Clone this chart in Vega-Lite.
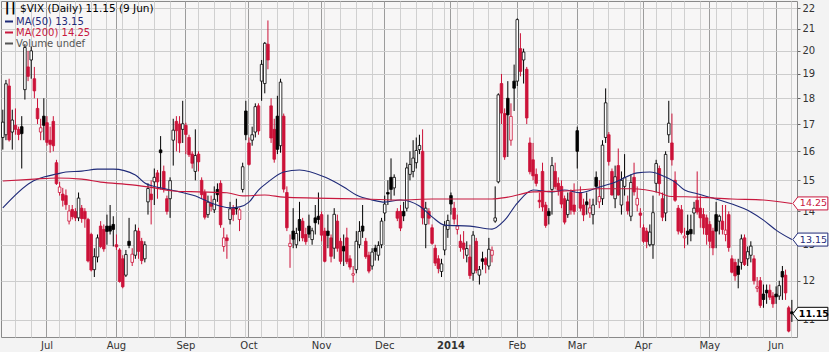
{
"$schema": "https://vega.github.io/schema/vega-lite/v6.json",
"width": 796, "height": 336,
"autosize": {"type": "none"},
"padding": {"left": 1, "top": 1, "right": 32, "bottom": 15},
"background": "#f3f3f3",
"config": {"view": {"stroke": "#8a8a8a", "fill": "#f7f6f6"}, "font": "DejaVu Sans",
  "axisY": {"orient": "right", "title": null, "values": [11,12,13,14,15,16,17,18,19,20,21,22], "format": "d",
        "grid": true, "gridColor": "#cdcdcd", "tickSize": 3, "tickColor": "#666666", "domain": false,
        "labelFontSize": 10, "labelColor": "#333333", "labelPadding": 2}},
"datasets": {
"px": [
{"t":"2013-06-11","o":16.5,"h":17.55,"l":16.06,"c":17.07,"d":"u"},
{"t":"2013-06-12","o":16.6,"h":18.75,"l":16.4,"c":18.59,"d":"u"},
{"t":"2013-06-13","o":18.5,"h":18.8,"l":16.35,"c":16.41,"d":"d"},
{"t":"2013-06-14","o":16.7,"h":17.55,"l":16.06,"c":17.15,"d":"u"},
{"t":"2013-06-17","o":16.95,"h":17.6,"l":16.6,"c":16.8,"d":"d"},
{"t":"2013-06-18","o":16.8,"h":16.9,"l":16.4,"c":16.61,"d":"d"},
{"t":"2013-06-19","o":16.9,"h":17.3,"l":15.4,"c":16.64,"d":"u"},
{"t":"2013-06-20","o":18.35,"h":20.3,"l":17.95,"c":20.15,"d":"u"},
{"t":"2013-06-21","o":19.3,"h":20.0,"l":18.7,"c":18.9,"d":"d"},
{"t":"2013-06-24","o":19.6,"h":20.2,"l":18.8,"c":20.0,"d":"u"},
{"t":"2013-06-25","o":18.8,"h":19.3,"l":18.0,"c":18.3,"d":"d"},
{"t":"2013-06-26","o":17.6,"h":18.0,"l":17.0,"c":17.2,"d":"d"},
{"t":"2013-06-27","o":16.7,"h":17.2,"l":16.4,"c":16.86,"d":"d"},
{"t":"2013-06-28","o":17.3,"h":18.0,"l":16.4,"c":16.95,"d":"u"},
{"t":"2013-07-01","o":17.05,"h":17.3,"l":16.2,"c":16.32,"d":"d"},
{"t":"2013-07-02","o":16.4,"h":16.9,"l":15.95,"c":16.25,"d":"d"},
{"t":"2013-07-03","o":17.1,"h":17.3,"l":16.0,"c":16.2,"d":"d"},
{"t":"2013-07-05","o":15.6,"h":15.7,"l":14.85,"c":14.89,"d":"d"},
{"t":"2013-07-08","o":14.6,"h":14.95,"l":14.5,"c":14.78,"d":"d"},
{"t":"2013-07-09","o":14.55,"h":14.75,"l":14.15,"c":14.35,"d":"d"},
{"t":"2013-07-10","o":14.5,"h":14.7,"l":14.05,"c":14.21,"d":"d"},
{"t":"2013-07-11","o":13.7,"h":14.2,"l":13.6,"c":14.01,"d":"d"},
{"t":"2013-07-12","o":14.06,"h":14.2,"l":13.75,"c":13.84,"d":"d"},
{"t":"2013-07-15","o":14.0,"h":14.1,"l":13.7,"c":13.8,"d":"d"},
{"t":"2013-07-16","o":13.8,"h":14.6,"l":13.7,"c":14.42,"d":"u"},
{"t":"2013-07-17","o":14.1,"h":14.2,"l":13.65,"c":13.78,"d":"d"},
{"t":"2013-07-18","o":14.0,"h":14.1,"l":13.5,"c":13.77,"d":"d"},
{"t":"2013-07-19","o":13.75,"h":13.8,"l":12.5,"c":12.54,"d":"d"},
{"t":"2013-07-22","o":13.3,"h":13.35,"l":12.25,"c":12.29,"d":"d"},
{"t":"2013-07-23","o":12.3,"h":12.9,"l":12.1,"c":12.66,"d":"u"},
{"t":"2013-07-24","o":12.65,"h":13.3,"l":12.5,"c":13.2,"d":"u"},
{"t":"2013-07-25","o":13.55,"h":13.7,"l":12.9,"c":12.95,"d":"d"},
{"t":"2013-07-26","o":13.45,"h":13.6,"l":12.8,"c":12.88,"d":"d"},
{"t":"2013-07-29","o":13.55,"h":13.9,"l":13.0,"c":13.39,"d":"u"},
{"t":"2013-07-30","o":13.55,"h":14.2,"l":13.3,"c":13.4,"d":"u"},
{"t":"2013-07-31","o":13.6,"h":13.85,"l":12.95,"c":13.45,"d":"u"},
{"t":"2013-08-01","o":13.0,"h":13.3,"l":12.85,"c":12.94,"d":"d"},
{"t":"2013-08-02","o":12.85,"h":12.9,"l":11.95,"c":11.98,"d":"d"},
{"t":"2013-08-05","o":12.6,"h":12.7,"l":11.8,"c":11.84,"d":"d"},
{"t":"2013-08-06","o":12.15,"h":12.85,"l":12.1,"c":12.72,"d":"u"},
{"t":"2013-08-07","o":13.1,"h":13.8,"l":12.9,"c":12.98,"d":"u"},
{"t":"2013-08-08","o":12.5,"h":12.9,"l":12.4,"c":12.73,"d":"d"},
{"t":"2013-08-09","o":12.7,"h":13.6,"l":12.6,"c":13.41,"d":"u"},
{"t":"2013-08-12","o":13.4,"h":13.5,"l":12.6,"c":12.81,"d":"d"},
{"t":"2013-08-13","o":13.1,"h":13.2,"l":12.45,"c":12.55,"d":"d"},
{"t":"2013-08-14","o":12.6,"h":13.1,"l":12.5,"c":13.0,"d":"u"},
{"t":"2013-08-15","o":14.3,"h":14.9,"l":13.9,"c":14.73,"d":"u"},
{"t":"2013-08-16","o":14.55,"h":15.0,"l":13.6,"c":14.37,"d":"d"},
{"t":"2013-08-19","o":14.95,"h":15.4,"l":14.2,"c":15.1,"d":"u"},
{"t":"2013-08-20","o":15.25,"h":15.35,"l":14.4,"c":14.95,"d":"d"},
{"t":"2013-08-21","o":16.05,"h":16.55,"l":14.7,"c":15.95,"d":"u"},
{"t":"2013-08-22","o":15.3,"h":15.5,"l":14.6,"c":14.7,"d":"d"},
{"t":"2013-08-23","o":14.4,"h":14.5,"l":13.9,"c":14.0,"d":"d"},
{"t":"2013-08-26","o":14.4,"h":15.1,"l":13.8,"c":14.99,"d":"u"},
{"t":"2013-08-27","o":16.4,"h":17.2,"l":15.5,"c":16.77,"d":"u"},
{"t":"2013-08-28","o":17.1,"h":17.3,"l":16.0,"c":16.75,"d":"d"},
{"t":"2013-08-29","o":17.0,"h":17.3,"l":15.95,"c":16.3,"d":"d"},
{"t":"2013-08-30","o":16.8,"h":17.9,"l":16.3,"c":17.01,"d":"u"},
{"t":"2013-09-03","o":16.95,"h":17.05,"l":15.9,"c":16.61,"d":"d"},
{"t":"2013-09-04","o":16.5,"h":16.6,"l":15.8,"c":15.88,"d":"d"},
{"t":"2013-09-05","o":15.9,"h":16.0,"l":15.4,"c":15.58,"d":"d"},
{"t":"2013-09-06","o":15.3,"h":16.8,"l":15.0,"c":15.85,"d":"u"},
{"t":"2013-09-09","o":15.9,"h":16.0,"l":15.3,"c":15.63,"d":"d"},
{"t":"2013-09-10","o":15.0,"h":15.1,"l":14.4,"c":14.53,"d":"d"},
{"t":"2013-09-11","o":14.6,"h":14.7,"l":13.75,"c":13.82,"d":"d"},
{"t":"2013-09-12","o":13.9,"h":14.5,"l":13.8,"c":14.29,"d":"u"},
{"t":"2013-09-13","o":14.25,"h":14.5,"l":14.0,"c":14.16,"d":"d"},
{"t":"2013-09-16","o":14.05,"h":14.8,"l":13.95,"c":14.38,"d":"u"},
{"t":"2013-09-17","o":14.7,"h":14.9,"l":14.3,"c":14.53,"d":"u"},
{"t":"2013-09-18","o":14.9,"h":15.0,"l":13.5,"c":13.59,"d":"d"},
{"t":"2013-09-19","o":12.95,"h":13.5,"l":12.8,"c":13.2,"d":"d"},
{"t":"2013-09-20","o":13.2,"h":13.3,"l":12.6,"c":13.12,"d":"d"},
{"t":"2013-09-23","o":13.75,"h":14.3,"l":13.6,"c":14.08,"d":"u"},
{"t":"2013-09-24","o":14.1,"h":14.2,"l":13.7,"c":13.9,"d":"d"},
{"t":"2013-09-25","o":14.1,"h":14.4,"l":13.9,"c":14.08,"d":"u"},
{"t":"2013-09-26","o":13.75,"h":14.1,"l":13.4,"c":14.05,"d":"d"},
{"t":"2013-09-27","o":14.7,"h":15.6,"l":14.6,"c":15.46,"d":"u"},
{"t":"2013-09-30","o":17.5,"h":17.9,"l":16.4,"c":16.6,"d":"u"},
{"t":"2013-10-01","o":16.3,"h":16.5,"l":15.5,"c":15.54,"d":"d"},
{"t":"2013-10-02","o":16.4,"h":16.9,"l":16.2,"c":16.6,"d":"u"},
{"t":"2013-10-03","o":16.7,"h":17.8,"l":16.5,"c":17.67,"d":"u"},
{"t":"2013-10-04","o":17.7,"h":17.8,"l":16.6,"c":16.74,"d":"d"},
{"t":"2013-10-07","o":18.7,"h":19.6,"l":17.9,"c":19.41,"d":"u"},
{"t":"2013-10-08","o":18.6,"h":20.4,"l":18.2,"c":20.34,"d":"u"},
{"t":"2013-10-09","o":20.3,"h":21.4,"l":19.2,"c":19.6,"d":"d"},
{"t":"2013-10-10","o":17.7,"h":18.0,"l":16.3,"c":16.48,"d":"d"},
{"t":"2013-10-11","o":16.8,"h":17.2,"l":15.6,"c":15.72,"d":"d"},
{"t":"2013-10-14","o":17.3,"h":18.1,"l":15.9,"c":16.07,"d":"u"},
{"t":"2013-10-15","o":16.2,"h":18.8,"l":15.95,"c":18.66,"d":"u"},
{"t":"2013-10-16","o":17.3,"h":17.4,"l":14.6,"c":14.71,"d":"d"},
{"t":"2013-10-17","o":14.6,"h":14.8,"l":13.4,"c":13.5,"d":"d"},
{"t":"2013-10-18","o":12.95,"h":13.3,"l":12.35,"c":13.04,"d":"d"},
{"t":"2013-10-21","o":13.4,"h":14.1,"l":12.9,"c":13.16,"d":"u"},
{"t":"2013-10-22","o":13.0,"h":13.5,"l":12.9,"c":13.33,"d":"u"},
{"t":"2013-10-23","o":13.75,"h":14.3,"l":13.1,"c":13.42,"d":"u"},
{"t":"2013-10-24","o":13.7,"h":13.8,"l":13.1,"c":13.2,"d":"d"},
{"t":"2013-10-25","o":13.3,"h":13.5,"l":13.0,"c":13.09,"d":"d"},
{"t":"2013-10-28","o":13.55,"h":13.9,"l":13.2,"c":13.31,"d":"u"},
{"t":"2013-10-29","o":13.15,"h":13.5,"l":13.0,"c":13.41,"d":"u"},
{"t":"2013-10-30","o":13.8,"h":14.2,"l":13.3,"c":13.65,"d":"u"},
{"t":"2013-10-31","o":13.85,"h":14.6,"l":13.6,"c":13.75,"d":"u"},
{"t":"2013-11-01","o":13.9,"h":14.0,"l":13.1,"c":13.28,"d":"d"},
{"t":"2013-11-04","o":13.4,"h":13.5,"l":12.5,"c":12.53,"d":"d"},
{"t":"2013-11-05","o":13.4,"h":13.9,"l":12.9,"c":13.27,"d":"u"},
{"t":"2013-11-06","o":13.2,"h":13.3,"l":12.5,"c":12.67,"d":"d"},
{"t":"2013-11-07","o":12.9,"h":14.1,"l":12.6,"c":13.91,"d":"u"},
{"t":"2013-11-08","o":13.7,"h":13.9,"l":12.8,"c":12.9,"d":"d"},
{"t":"2013-11-11","o":13.1,"h":13.2,"l":12.45,"c":12.53,"d":"d"},
{"t":"2013-11-12","o":12.95,"h":13.3,"l":12.4,"c":12.82,"d":"u"},
{"t":"2013-11-13","o":13.2,"h":13.5,"l":12.45,"c":12.52,"d":"d"},
{"t":"2013-11-14","o":12.6,"h":12.7,"l":12.3,"c":12.37,"d":"d"},
{"t":"2013-11-15","o":12.15,"h":12.4,"l":11.95,"c":12.19,"d":"d"},
{"t":"2013-11-18","o":12.3,"h":13.4,"l":12.2,"c":13.1,"d":"u"},
{"t":"2013-11-19","o":13.0,"h":13.7,"l":12.9,"c":13.39,"d":"u"},
{"t":"2013-11-20","o":13.55,"h":14.2,"l":13.2,"c":13.4,"d":"u"},
{"t":"2013-11-21","o":13.1,"h":13.2,"l":12.6,"c":12.66,"d":"d"},
{"t":"2013-11-22","o":12.7,"h":12.8,"l":12.2,"c":12.26,"d":"d"},
{"t":"2013-11-25","o":12.4,"h":12.9,"l":12.3,"c":12.79,"d":"u"},
{"t":"2013-11-26","o":12.9,"h":13.0,"l":12.55,"c":12.81,"d":"u"},
{"t":"2013-11-27","o":12.7,"h":13.1,"l":12.55,"c":12.98,"d":"u"},
{"t":"2013-11-29","o":13.0,"h":13.8,"l":12.9,"c":13.7,"d":"u"},
{"t":"2013-12-02","o":13.95,"h":14.5,"l":13.7,"c":14.23,"d":"u"},
{"t":"2013-12-03","o":14.6,"h":15.0,"l":14.2,"c":14.55,"d":"u"},
{"t":"2013-12-04","o":15.1,"h":15.75,"l":14.35,"c":14.7,"d":"u"},
{"t":"2013-12-05","o":14.75,"h":15.2,"l":14.5,"c":15.1,"d":"u"},
{"t":"2013-12-06","o":14.0,"h":14.1,"l":13.7,"c":13.79,"d":"d"},
{"t":"2013-12-09","o":14.0,"h":14.2,"l":13.4,"c":13.49,"d":"d"},
{"t":"2013-12-10","o":14.0,"h":14.3,"l":13.7,"c":13.86,"d":"u"},
{"t":"2013-12-11","o":14.1,"h":15.6,"l":14.0,"c":15.42,"d":"u"},
{"t":"2013-12-12","o":15.2,"h":16.0,"l":15.0,"c":15.54,"d":"u"},
{"t":"2013-12-13","o":15.3,"h":16.4,"l":15.1,"c":15.76,"d":"u"},
{"t":"2013-12-16","o":15.6,"h":16.5,"l":15.4,"c":16.03,"d":"u"},
{"t":"2013-12-17","o":16.06,"h":16.6,"l":15.9,"c":16.21,"d":"u"},
{"t":"2013-12-18","o":16.0,"h":16.8,"l":13.6,"c":13.8,"d":"d"},
{"t":"2013-12-19","o":13.6,"h":14.3,"l":12.9,"c":14.1,"d":"u"},
{"t":"2013-12-20","o":14.0,"h":14.1,"l":13.6,"c":13.79,"d":"d"},
{"t":"2013-12-23","o":13.5,"h":13.6,"l":13.0,"c":13.04,"d":"d"},
{"t":"2013-12-24","o":12.9,"h":13.0,"l":12.4,"c":12.48,"d":"d"},
{"t":"2013-12-26","o":12.6,"h":12.7,"l":12.2,"c":12.33,"d":"d"},
{"t":"2013-12-27","o":12.25,"h":12.6,"l":12.1,"c":12.46,"d":"u"},
{"t":"2013-12-30","o":12.85,"h":13.7,"l":12.7,"c":13.56,"d":"u"},
{"t":"2013-12-31","o":13.45,"h":13.9,"l":13.2,"c":13.72,"d":"u"},
{"t":"2014-01-02","o":14.5,"h":14.6,"l":13.9,"c":14.23,"d":"u"},
{"t":"2014-01-03","o":14.1,"h":14.3,"l":13.6,"c":13.76,"d":"d"},
{"t":"2014-01-06","o":13.45,"h":13.9,"l":13.3,"c":13.55,"d":"d"},
{"t":"2014-01-07","o":13.1,"h":13.3,"l":12.8,"c":12.92,"d":"d"},
{"t":"2014-01-08","o":13.05,"h":13.4,"l":12.6,"c":12.87,"d":"d"},
{"t":"2014-01-09","o":12.7,"h":13.1,"l":12.5,"c":12.89,"d":"u"},
{"t":"2014-01-10","o":12.65,"h":13.0,"l":12.05,"c":12.14,"d":"d"},
{"t":"2014-01-13","o":12.2,"h":13.4,"l":12.0,"c":13.28,"d":"u"},
{"t":"2014-01-14","o":13.1,"h":13.2,"l":12.2,"c":12.28,"d":"d"},
{"t":"2014-01-15","o":12.15,"h":12.4,"l":11.9,"c":12.3,"d":"u"},
{"t":"2014-01-16","o":12.6,"h":12.8,"l":12.3,"c":12.53,"d":"u"},
{"t":"2014-01-17","o":12.6,"h":12.65,"l":12.2,"c":12.44,"d":"d"},
{"t":"2014-01-21","o":12.4,"h":13.2,"l":12.3,"c":12.87,"d":"u"},
{"t":"2014-01-22","o":12.7,"h":12.95,"l":12.5,"c":12.84,"d":"d"},
{"t":"2014-01-23","o":13.7,"h":14.8,"l":13.65,"c":13.8,"d":"u"},
{"t":"2014-01-24","o":14.95,"h":18.2,"l":14.9,"c":18.14,"d":"u"},
{"t":"2014-01-27","o":18.6,"h":19.0,"l":17.0,"c":17.42,"d":"d"},
{"t":"2014-01-28","o":17.4,"h":17.6,"l":15.7,"c":15.8,"d":"d"},
{"t":"2014-01-29","o":18.0,"h":18.7,"l":15.8,"c":17.35,"d":"u"},
{"t":"2014-01-30","o":16.4,"h":17.8,"l":16.2,"c":17.29,"d":"d"},
{"t":"2014-01-31","o":18.7,"h":19.4,"l":17.5,"c":18.41,"d":"u"},
{"t":"2014-02-03","o":18.7,"h":21.5,"l":18.5,"c":21.44,"d":"u"},
{"t":"2014-02-04","o":20.1,"h":20.8,"l":18.9,"c":19.11,"d":"d"},
{"t":"2014-02-05","o":19.6,"h":20.1,"l":18.6,"c":19.95,"d":"u"},
{"t":"2014-02-06","o":19.2,"h":19.3,"l":17.0,"c":17.23,"d":"d"},
{"t":"2014-02-07","o":16.3,"h":16.5,"l":15.2,"c":15.29,"d":"d"},
{"t":"2014-02-10","o":15.7,"h":16.3,"l":15.0,"c":15.15,"d":"d"},
{"t":"2014-02-11","o":15.2,"h":15.4,"l":14.8,"c":14.9,"d":"d"},
{"t":"2014-02-12","o":14.35,"h":14.6,"l":14.1,"c":14.3,"d":"d"},
{"t":"2014-02-13","o":15.3,"h":15.6,"l":14.0,"c":14.14,"d":"d"},
{"t":"2014-02-14","o":14.2,"h":14.3,"l":13.5,"c":13.57,"d":"d"},
{"t":"2014-02-18","o":14.0,"h":14.1,"l":13.6,"c":13.87,"d":"u"},
{"t":"2014-02-19","o":14.7,"h":15.8,"l":13.9,"c":15.5,"d":"u"},
{"t":"2014-02-20","o":15.3,"h":15.6,"l":14.7,"c":14.79,"d":"d"},
{"t":"2014-02-21","o":14.9,"h":15.1,"l":14.5,"c":14.68,"d":"d"},
{"t":"2014-02-24","o":14.8,"h":15.0,"l":14.1,"c":14.23,"d":"d"},
{"t":"2014-02-25","o":14.4,"h":14.5,"l":13.6,"c":13.67,"d":"d"},
{"t":"2014-02-26","o":13.9,"h":14.6,"l":13.8,"c":14.35,"d":"u"},
{"t":"2014-02-27","o":14.6,"h":14.7,"l":13.9,"c":14.04,"d":"d"},
{"t":"2014-02-28","o":14.2,"h":14.9,"l":13.9,"c":14.0,"d":"d"},
{"t":"2014-03-03","o":16.75,"h":16.9,"l":15.4,"c":16.0,"d":"u"},
{"t":"2014-03-04","o":14.6,"h":14.8,"l":14.0,"c":14.1,"d":"d"},
{"t":"2014-03-05","o":14.2,"h":14.4,"l":13.7,"c":13.89,"d":"d"},
{"t":"2014-03-06","o":14.3,"h":14.6,"l":13.9,"c":14.21,"d":"u"},
{"t":"2014-03-07","o":13.95,"h":14.4,"l":13.8,"c":14.11,"d":"d"},
{"t":"2014-03-10","o":13.9,"h":14.4,"l":13.6,"c":14.2,"d":"u"},
{"t":"2014-03-11","o":15.1,"h":15.3,"l":14.2,"c":14.8,"d":"u"},
{"t":"2014-03-12","o":14.3,"h":15.0,"l":14.1,"c":14.47,"d":"d"},
{"t":"2014-03-13","o":14.4,"h":16.4,"l":14.2,"c":16.22,"d":"u"},
{"t":"2014-03-14","o":16.5,"h":18.4,"l":16.3,"c":17.82,"d":"u"},
{"t":"2014-03-17","o":16.6,"h":16.7,"l":15.5,"c":15.64,"d":"d"},
{"t":"2014-03-18","o":15.3,"h":15.4,"l":14.5,"c":14.52,"d":"d"},
{"t":"2014-03-19","o":14.4,"h":15.5,"l":14.1,"c":15.12,"d":"u"},
{"t":"2014-03-20","o":15.5,"h":16.1,"l":14.5,"c":14.52,"d":"d"},
{"t":"2014-03-21","o":14.2,"h":15.3,"l":13.9,"c":15.0,"d":"u"},
{"t":"2014-03-24","o":14.8,"h":15.9,"l":14.5,"c":15.09,"d":"u"},
{"t":"2014-03-25","o":14.3,"h":14.5,"l":13.9,"c":14.02,"d":"d"},
{"t":"2014-03-26","o":13.85,"h":15.2,"l":13.7,"c":14.93,"d":"u"},
{"t":"2014-03-27","o":15.1,"h":15.6,"l":14.5,"c":14.62,"d":"d"},
{"t":"2014-03-28","o":14.2,"h":14.8,"l":14.0,"c":14.41,"d":"d"},
{"t":"2014-03-31","o":13.95,"h":14.1,"l":13.5,"c":13.88,"d":"d"},
{"t":"2014-04-01","o":13.5,"h":13.6,"l":13.05,"c":13.1,"d":"d"},
{"t":"2014-04-02","o":13.4,"h":13.5,"l":12.9,"c":13.09,"d":"d"},
{"t":"2014-04-03","o":13.0,"h":13.6,"l":12.95,"c":13.37,"d":"u"},
{"t":"2014-04-04","o":13.0,"h":14.5,"l":12.6,"c":13.96,"d":"u"},
{"t":"2014-04-07","o":14.9,"h":15.7,"l":14.6,"c":15.57,"d":"u"},
{"t":"2014-04-08","o":15.4,"h":15.5,"l":14.5,"c":14.89,"d":"d"},
{"t":"2014-04-09","o":14.4,"h":14.6,"l":13.7,"c":13.82,"d":"d"},
{"t":"2014-04-10","o":13.95,"h":16.0,"l":13.7,"c":15.89,"d":"u"},
{"t":"2014-04-11","o":16.6,"h":17.9,"l":16.3,"c":17.03,"d":"u"},
{"t":"2014-04-14","o":16.3,"h":17.4,"l":15.5,"c":15.7,"d":"d"},
{"t":"2014-04-15","o":15.0,"h":15.3,"l":14.3,"c":14.35,"d":"d"},
{"t":"2014-04-16","o":14.1,"h":14.2,"l":13.3,"c":13.4,"d":"d"},
{"t":"2014-04-17","o":14.05,"h":14.2,"l":13.3,"c":13.36,"d":"d"},
{"t":"2014-04-21","o":13.2,"h":13.5,"l":12.9,"c":13.25,"d":"d"},
{"t":"2014-04-22","o":13.4,"h":13.9,"l":13.0,"c":13.3,"d":"u"},
{"t":"2014-04-23","o":13.45,"h":13.9,"l":13.1,"c":13.32,"d":"u"},
{"t":"2014-04-24","o":13.95,"h":14.3,"l":13.3,"c":14.1,"d":"u"},
{"t":"2014-04-25","o":14.35,"h":15.3,"l":13.9,"c":13.98,"d":"d"},
{"t":"2014-04-28","o":14.1,"h":14.5,"l":13.5,"c":13.8,"d":"d"},
{"t":"2014-04-29","o":13.9,"h":14.1,"l":13.3,"c":13.5,"d":"d"},
{"t":"2014-04-30","o":13.8,"h":13.9,"l":13.0,"c":13.3,"d":"d"},
{"t":"2014-05-01","o":13.6,"h":13.7,"l":12.9,"c":13.1,"d":"d"},
{"t":"2014-05-02","o":13.4,"h":13.5,"l":12.7,"c":12.91,"d":"d"},
{"t":"2014-05-05","o":13.9,"h":14.3,"l":12.9,"c":13.4,"d":"u"},
{"t":"2014-05-06","o":13.7,"h":13.9,"l":13.3,"c":13.85,"d":"u"},
{"t":"2014-05-07","o":13.7,"h":14.2,"l":13.3,"c":13.45,"d":"d"},
{"t":"2014-05-08","o":13.3,"h":14.2,"l":13.1,"c":13.43,"d":"d"},
{"t":"2014-05-09","o":13.9,"h":14.0,"l":12.8,"c":12.92,"d":"d"},
{"t":"2014-05-12","o":12.6,"h":12.7,"l":12.2,"c":12.23,"d":"d"},
{"t":"2014-05-13","o":12.5,"h":12.6,"l":12.0,"c":12.13,"d":"d"},
{"t":"2014-05-14","o":12.4,"h":12.6,"l":11.8,"c":12.17,"d":"u"},
{"t":"2014-05-15","o":12.5,"h":13.3,"l":12.3,"c":13.17,"d":"u"},
{"t":"2014-05-16","o":13.2,"h":13.3,"l":12.4,"c":12.44,"d":"d"},
{"t":"2014-05-19","o":12.6,"h":12.95,"l":12.4,"c":12.8,"d":"u"},
{"t":"2014-05-20","o":12.7,"h":13.1,"l":12.5,"c":12.96,"d":"u"},
{"t":"2014-05-21","o":12.6,"h":12.7,"l":11.9,"c":12.0,"d":"d"},
{"t":"2014-05-22","o":11.8,"h":12.1,"l":11.7,"c":11.84,"d":"d"},
{"t":"2014-05-23","o":12.0,"h":12.1,"l":11.3,"c":11.36,"d":"d"},
{"t":"2014-05-27","o":11.65,"h":11.9,"l":11.3,"c":11.51,"d":"u"},
{"t":"2014-05-28","o":11.75,"h":11.9,"l":11.4,"c":11.68,"d":"u"},
{"t":"2014-05-29","o":11.75,"h":11.9,"l":11.5,"c":11.57,"d":"d"},
{"t":"2014-05-30","o":11.6,"h":11.7,"l":11.3,"c":11.4,"d":"d"},
{"t":"2014-06-02","o":11.65,"h":11.85,"l":11.4,"c":11.58,"d":"u"},
{"t":"2014-06-03","o":11.6,"h":12.0,"l":11.5,"c":11.87,"d":"u"},
{"t":"2014-06-04","o":12.25,"h":12.4,"l":11.5,"c":12.1,"d":"u"},
{"t":"2014-06-05","o":12.15,"h":12.3,"l":11.5,"c":11.68,"d":"d"},
{"t":"2014-06-06","o":11.3,"h":11.35,"l":10.7,"c":10.73,"d":"d"},
{"t":"2014-06-09","o":11.2,"h":11.5,"l":10.95,"c":11.15,"d":"u"}
],
"ma": [
{"t":"2013-06-11","v":14.11,"s":"MA(50) 13.15"},
{"t":"2013-06-24","v":14.94,"s":"MA(50) 13.15"},
{"t":"2013-06-28","v":15.11,"s":"MA(50) 13.15"},
{"t":"2013-07-05","v":15.21,"s":"MA(50) 13.15"},
{"t":"2013-07-10","v":15.28,"s":"MA(50) 13.15"},
{"t":"2013-07-17","v":15.31,"s":"MA(50) 13.15"},
{"t":"2013-07-24","v":15.38,"s":"MA(50) 13.15"},
{"t":"2013-07-31","v":15.38,"s":"MA(50) 13.15"},
{"t":"2013-08-09","v":15.18,"s":"MA(50) 13.15"},
{"t":"2013-08-14","v":14.91,"s":"MA(50) 13.15"},
{"t":"2013-08-21","v":14.75,"s":"MA(50) 13.15"},
{"t":"2013-08-29","v":14.62,"s":"MA(50) 13.15"},
{"t":"2013-09-09","v":14.45,"s":"MA(50) 13.15"},
{"t":"2013-09-13","v":14.26,"s":"MA(50) 13.15"},
{"t":"2013-09-23","v":14.11,"s":"MA(50) 13.15"},
{"t":"2013-09-26","v":14.14,"s":"MA(50) 13.15"},
{"t":"2013-10-01","v":14.29,"s":"MA(50) 13.15"},
{"t":"2013-10-04","v":14.68,"s":"MA(50) 13.15"},
{"t":"2013-10-09","v":14.94,"s":"MA(50) 13.15"},
{"t":"2013-10-16","v":15.28,"s":"MA(50) 13.15"},
{"t":"2013-10-23","v":15.35,"s":"MA(50) 13.15"},
{"t":"2013-11-04","v":15.11,"s":"MA(50) 13.15"},
{"t":"2013-11-12","v":14.78,"s":"MA(50) 13.15"},
{"t":"2013-11-18","v":14.52,"s":"MA(50) 13.15"},
{"t":"2013-11-25","v":14.36,"s":"MA(50) 13.15"},
{"t":"2013-12-02","v":14.29,"s":"MA(50) 13.15"},
{"t":"2013-12-09","v":14.36,"s":"MA(50) 13.15"},
{"t":"2013-12-17","v":14.17,"s":"MA(50) 13.15"},
{"t":"2013-12-23","v":13.83,"s":"MA(50) 13.15"},
{"t":"2013-12-30","v":13.58,"s":"MA(50) 13.15"},
{"t":"2014-01-10","v":13.55,"s":"MA(50) 13.15"},
{"t":"2014-01-22","v":13.46,"s":"MA(50) 13.15"},
{"t":"2014-01-28","v":13.73,"s":"MA(50) 13.15"},
{"t":"2014-02-03","v":14.26,"s":"MA(50) 13.15"},
{"t":"2014-02-10","v":14.68,"s":"MA(50) 13.15"},
{"t":"2014-02-19","v":14.62,"s":"MA(50) 13.15"},
{"t":"2014-02-25","v":14.68,"s":"MA(50) 13.15"},
{"t":"2014-03-04","v":14.59,"s":"MA(50) 13.15"},
{"t":"2014-03-12","v":14.78,"s":"MA(50) 13.15"},
{"t":"2014-03-19","v":14.94,"s":"MA(50) 13.15"},
{"t":"2014-03-28","v":15.25,"s":"MA(50) 13.15"},
{"t":"2014-04-03","v":15.28,"s":"MA(50) 13.15"},
{"t":"2014-04-10","v":15.11,"s":"MA(50) 13.15"},
{"t":"2014-04-15","v":14.94,"s":"MA(50) 13.15"},
{"t":"2014-04-21","v":14.68,"s":"MA(50) 13.15"},
{"t":"2014-04-25","v":14.56,"s":"MA(50) 13.15"},
{"t":"2014-05-02","v":14.42,"s":"MA(50) 13.15"},
{"t":"2014-05-12","v":14.23,"s":"MA(50) 13.15"},
{"t":"2014-05-20","v":13.98,"s":"MA(50) 13.15"},
{"t":"2014-05-27","v":13.73,"s":"MA(50) 13.15"},
{"t":"2014-06-02","v":13.43,"s":"MA(50) 13.15"},
{"t":"2014-06-09","v":13.15,"s":"MA(50) 13.15"},
{"t":"2013-06-11","v":14.98,"s":"MA(200) 14.25"},
{"t":"2013-06-25","v":15.04,"s":"MA(200) 14.25"},
{"t":"2013-07-05","v":15.08,"s":"MA(200) 14.25"},
{"t":"2013-07-17","v":15.04,"s":"MA(200) 14.25"},
{"t":"2013-07-25","v":14.94,"s":"MA(200) 14.25"},
{"t":"2013-08-08","v":14.85,"s":"MA(200) 14.25"},
{"t":"2013-08-19","v":14.75,"s":"MA(200) 14.25"},
{"t":"2013-08-27","v":14.65,"s":"MA(200) 14.25"},
{"t":"2013-09-09","v":14.62,"s":"MA(200) 14.25"},
{"t":"2013-09-20","v":14.59,"s":"MA(200) 14.25"},
{"t":"2013-09-27","v":14.49,"s":"MA(200) 14.25"},
{"t":"2013-10-08","v":14.52,"s":"MA(200) 14.25"},
{"t":"2013-10-16","v":14.45,"s":"MA(200) 14.25"},
{"t":"2013-10-30","v":14.42,"s":"MA(200) 14.25"},
{"t":"2013-11-21","v":14.39,"s":"MA(200) 14.25"},
{"t":"2013-12-09","v":14.36,"s":"MA(200) 14.25"},
{"t":"2013-12-23","v":14.39,"s":"MA(200) 14.25"},
{"t":"2014-01-09","v":14.39,"s":"MA(200) 14.25"},
{"t":"2014-01-22","v":14.39,"s":"MA(200) 14.25"},
{"t":"2014-01-29","v":14.45,"s":"MA(200) 14.25"},
{"t":"2014-02-10","v":14.62,"s":"MA(200) 14.25"},
{"t":"2014-02-25","v":14.65,"s":"MA(200) 14.25"},
{"t":"2014-03-12","v":14.72,"s":"MA(200) 14.25"},
{"t":"2014-03-26","v":14.72,"s":"MA(200) 14.25"},
{"t":"2014-04-08","v":14.59,"s":"MA(200) 14.25"},
{"t":"2014-04-11","v":14.48,"s":"MA(200) 14.25"},
{"t":"2014-04-25","v":14.45,"s":"MA(200) 14.25"},
{"t":"2014-05-12","v":14.39,"s":"MA(200) 14.25"},
{"t":"2014-05-27","v":14.36,"s":"MA(200) 14.25"},
{"t":"2014-06-09","v":14.25,"s":"MA(200) 14.25"}
]
},
"encoding": {
"x": {"field": "t", "type": "ordinal", "sort": "ascending",
  "scale": {"paddingInner": 0, "paddingOuter": 0.6, "align": 0.06},
  "axis": {
    "title": null,
    "values": ["2013-06-17","2013-06-24","2013-07-01","2013-07-08","2013-07-15","2013-07-22","2013-07-29","2013-08-01","2013-08-05","2013-08-12","2013-08-19","2013-08-26","2013-09-03","2013-09-09","2013-09-16","2013-09-23","2013-09-30","2013-10-01","2013-10-07","2013-10-14","2013-10-21","2013-10-28","2013-11-01","2013-11-04","2013-11-11","2013-11-18","2013-11-25","2013-12-02","2013-12-09","2013-12-16","2013-12-23","2013-12-30","2014-01-02","2014-01-06","2014-01-13","2014-01-21","2014-01-27","2014-02-03","2014-02-10","2014-02-18","2014-02-24","2014-03-03","2014-03-10","2014-03-17","2014-03-24","2014-03-31","2014-04-01","2014-04-07","2014-04-14","2014-04-21","2014-04-28","2014-05-01","2014-05-05","2014-05-12","2014-05-19","2014-05-27","2014-06-02","2014-06-09"],
    "labelExpr": "toNumber(substring(datum.value,8,10)) <= 3 ? (substring(datum.value,5,7) == '01' ? substring(datum.value,0,4) : ['Jan','Feb','Mar','Apr','May','Jun','Jul','Aug','Sep','Oct','Nov','Dec'][toNumber(substring(datum.value,5,7)) - 1]) : ''",
    "labelAngle": 0, "labelOverlap": false, "labelFontSize": 10, "labelColor": "#333333", "labelPadding": 3,
    "labelFontWeight": {"condition": {"test": "substring(datum.value,5,7) == '01'", "value": "bold"}, "value": "normal"},
    "ticks": false, "domain": false, "grid": true, "bandPosition": 0.5,
    "gridColor": {"condition": {"test": "toNumber(substring(datum.value,8,10)) <= 3", "value": "#9c9c9c"}, "value": "#d0d0d0"}
  }
}
},
"layer": [
{
  "data": {"name": "px"},
  "mark": {"type": "rule", "strokeWidth": 1},
  "encoding": {
    "y": {"field": "l", "type": "quantitative", "title": null,
      "scale": {"type": "log", "domain": [10.59, 22.345], "nice": false, "zero": false}},
    "y2": {"field": "h"},
    "color": {"condition": {"test": "datum.d == 'u'", "value": "#000000"}, "value": "#cc1238"}
  }
},
{
  "data": {"name": "px"},
  "mark": {"type": "bar", "width": 2.6, "strokeWidth": 0.8},
  "encoding": {
    "y": {"field": "o", "type": "quantitative", "title": null, "scale": {"type": "log", "domain": [10.59, 22.345], "nice": false, "zero": false}},
    "y2": {"field": "c"},
    "fill": {"condition": [{"test": "datum.c > datum.o", "value": "#ffffff"}, {"test": "datum.d == 'u'", "value": "#000000"}], "value": "#cc1238"},
    "stroke": {"condition": {"test": "datum.d == 'u'", "value": "#000000"}, "value": "#cc1238"}
  }
},
{
  "data": {"name": "ma"},
  "mark": {"type": "line", "strokeWidth": 1.1, "interpolate": "monotone"},
  "encoding": {
    "y": {"field": "v", "type": "quantitative", "title": null, "scale": {"type": "log", "domain": [10.59, 22.345], "nice": false, "zero": false}},
    "color": {"field": "s", "type": "nominal",
      "scale": {"domain": ["MA(50) 13.15", "MA(200) 14.25", "Volume undef"], "range": ["#1f2a78", "#c8183e", "#555555"]},
      "legend": {"orient": "top-left", "offset": 3, "padding": 0,
        "title": "\u2503\u2503 $VIX (Daily) 11.15 (9 Jun)", "titleFontSize": 10.5, "titleFontWeight": "normal", "titleColor": "#000000", "titlePadding": 2,
        "symbolType": "stroke", "symbolSize": 64, "symbolStrokeWidth": 2, "labelFontSize": 10, "labelOffset": 2, "rowPadding": 1,
        "encode": {"labels": {"update": {"fill": {"scale": "color", "field": "value"}}}}}
    }
  }
},
{
  "data": {"name": "ma"},
  "transform": [{"filter": "datum.t == '2014-06-09'"}],
  "mark": {"type": "point", "shape": "M0.1,0L0.6,-0.65L3.6,-0.65L3.6,0.65L0.6,0.65Z", "size": 400, "filled": true, "fill": "#ffffff", "strokeWidth": 1, "opacity": 1},
  "encoding": {
    "y": {"field": "v", "type": "quantitative", "title": null, "scale": {"type": "log", "domain": [10.59, 22.345], "nice": false, "zero": false}},
    "stroke": {"condition": {"test": "datum.s == 'MA(50) 13.15'", "value": "#1f2a78"}, "value": "#c8183e"}
  }
},
{
  "data": {"name": "ma"},
  "transform": [{"filter": "datum.t == '2014-06-09'"}],
  "mark": {"type": "text", "align": "left", "baseline": "middle", "dx": 8, "fontSize": 9.5},
  "encoding": {
    "y": {"field": "v", "type": "quantitative", "title": null, "scale": {"type": "log", "domain": [10.59, 22.345], "nice": false, "zero": false}},
    "text": {"field": "v", "type": "quantitative", "format": ".2f"},
    "color": {"condition": {"test": "datum.s == 'MA(50) 13.15'", "value": "#1f2a78"}, "value": "#c8183e"}
  }
},
{
  "data": {"name": "px"},
  "transform": [{"filter": "datum.t == '2014-06-09'"}],
  "mark": {"type": "point", "shape": "M0.1,0L0.6,-0.65L3.6,-0.65L3.6,0.65L0.6,0.65Z", "size": 400, "filled": true, "fill": "#ffffff", "stroke": "#000000", "strokeWidth": 1, "opacity": 1},
  "encoding": {
    "y": {"field": "c", "type": "quantitative", "title": null, "scale": {"type": "log", "domain": [10.59, 22.345], "nice": false, "zero": false}}
  }
},
{
  "data": {"name": "px"},
  "transform": [{"filter": "datum.t == '2014-06-09'"}],
  "mark": {"type": "text", "align": "left", "baseline": "middle", "dx": 7, "fontSize": 9.5, "fontWeight": "bold", "color": "#000000"},
  "encoding": {
    "y": {"field": "c", "type": "quantitative", "title": null, "scale": {"type": "log", "domain": [10.59, 22.345], "nice": false, "zero": false}},
    "text": {"field": "c", "type": "quantitative", "format": ".2f"}
  }
}
]
}
